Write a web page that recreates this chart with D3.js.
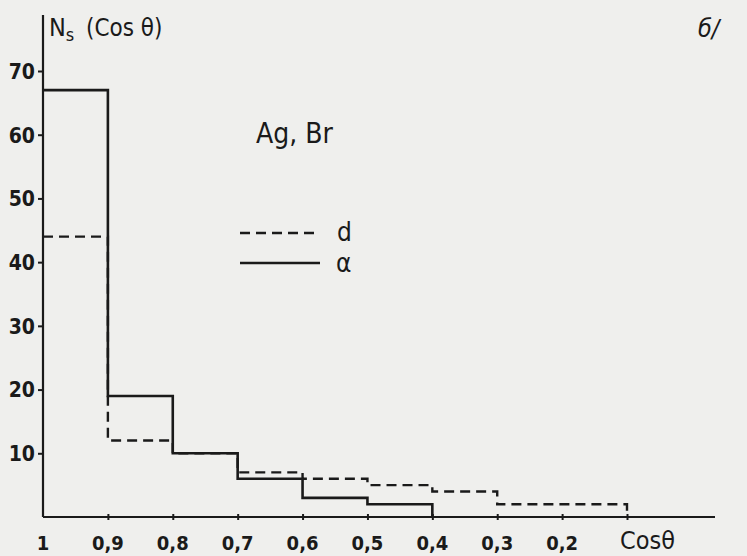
<!DOCTYPE html>
<html><head><meta charset="utf-8">
<script src="https://cdn.jsdelivr.net/npm/d3@7"></script>
<style>
html,body{margin:0;padding:0;background:#efefed;}
svg{display:block;}
text{font-family:"DejaVu Sans Condensed","DejaVu Sans",sans-serif;fill:#1a1a1a;}
</style></head>
<body>
<svg id="c" width="747" height="556"></svg>
<script>
// Bin edges (Cos θ), from 1 down to 0.1
const binEdges = [1, 0.9, 0.8, 0.7, 0.6, 0.5, 0.4, 0.3, 0.2, 0.1];
// α particles (solid)
const alphaValues = [67, 19, 10, 6, 3, 2];
// d (dashed)
const dValues = [44, 12, 10, 7, 6, 5, 4, 2, 2];
const yTicks = [10, 20, 30, 40, 50, 60, 70];
const xTicks = [1, 0.9, 0.8, 0.7, 0.6, 0.5, 0.4, 0.3, 0.2];
const xTickMarks = [0.9, 0.8, 0.7, 0.6, 0.5, 0.4, 0.3, 0.2, 0.1];

const svg = d3.select("#c");
const x = d3.scaleLinear().domain([1, 0.1]).range([43, 627]);
const y = d3.scaleLinear().domain([0, 70]).range([517, 71]);
const ink = "#1a1a1a";

// axes
svg.append("line").attr("x1",43).attr("x2",43).attr("y1",15).attr("y2",y(0))
  .attr("stroke",ink).attr("stroke-width",2.2);
svg.append("line").attr("x1",43).attr("x2",715).attr("y1",y(0)).attr("y2",y(0))
  .attr("stroke",ink).attr("stroke-width",2.2);

const yAxis = d3.axisLeft(y).tickValues(yTicks).tickSize(5).tickFormat(d3.format("d"));
const gy = svg.append("g").attr("transform","translate(43,0)").call(yAxis);
gy.select(".domain").remove();
gy.selectAll("line").attr("stroke",ink).attr("stroke-width",2);
gy.selectAll("text").attr("font-size",21).attr("font-weight","bold").attr("x",-8).attr("dy","0.35em")
  .attr("font-family","DejaVu Sans Condensed").style("fill",ink);

const xAxis = d3.axisBottom(x).tickValues(xTickMarks).tickSize(6).tickFormat("");
const gx = svg.append("g").attr("transform",`translate(0,${y(0)-3})`).call(xAxis);
gx.select(".domain").remove();
gx.selectAll("line").attr("stroke",ink).attr("stroke-width",2);

svg.append("g").selectAll("text").data(xTicks).join("text")
  .attr("x",d=>x(d)).attr("y",550).attr("text-anchor","middle")
  .attr("font-size",20).attr("font-weight","bold")
  .text(d=>d===1?"1":d3.format(".1f")(d).replace(".",","));

svg.append("text").attr("x",620).attr("y",549).attr("font-size",25).text("Cosθ");
svg.append("text").attr("x",49).attr("y",36).attr("font-size",25).text("N").append("tspan")
  .attr("font-size",18).attr("dy",5).text("s");
svg.append("text").attr("x",86).attr("y",36).attr("font-size",24).text("(Cos θ)");
svg.append("text").attr("x",698).attr("y",37).attr("font-size",25).attr("font-style","italic").text("б/");

// step lines
function stepPoints(vals){
  const pts = vals.map((v,i)=>[binEdges[i], v]);
  pts.push([binEdges[vals.length], 0]);
  return pts;
}
const line = d3.line().x(d=>x(d[0])).y(d=>y(d[1])).curve(d3.curveStepAfter);
svg.append("path").attr("d", line(stepPoints(dValues))).attr("fill","none")
  .attr("stroke",ink).attr("stroke-width",2.4).attr("stroke-dasharray","10,6");
svg.append("path").attr("d", line(stepPoints(alphaValues))).attr("fill","none")
  .attr("stroke",ink).attr("stroke-width",2.6);

// legend
svg.append("text").attr("x",256).attr("y",143).attr("font-size",28)
  .attr("font-family","DejaVu Sans").text("Ag, Br");
svg.append("line").attr("x1",240).attr("x2",320).attr("y1",233).attr("y2",233)
  .attr("stroke",ink).attr("stroke-width",2.4).attr("stroke-dasharray","10,6");
svg.append("text").attr("x",337).attr("y",241).attr("font-size",26).text("d");
svg.append("line").attr("x1",240).attr("x2",320).attr("y1",263).attr("y2",263)
  .attr("stroke",ink).attr("stroke-width",2.6);
svg.append("text").attr("x",336).attr("y",272).attr("font-size",26).text("α");
</script>
</body></html>
